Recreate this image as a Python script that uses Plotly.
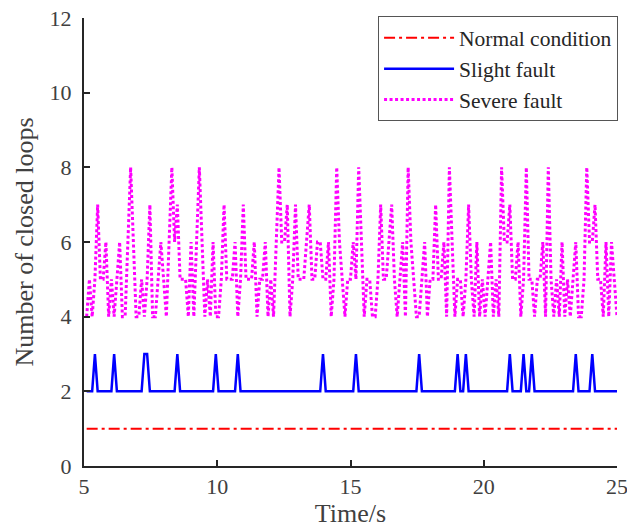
import numpy as np
import plotly.graph_objects as go

# ---- data ----
severe = [
    4, 5, 4, 5, 7, 5, 5, 6, 4, 5, 4, 5, 6, 4, 4, 6, 8, 6, 4, 4,   # 5.6 - 7.5
    5, 4, 5, 7, 4, 4, 5, 6, 5, 4, 6, 8, 6, 7, 5, 5, 5, 4, 6, 4,   # 7.6 - 9.5
    6, 8, 6, 4, 5, 4, 6, 4, 4, 5, 7, 5, 5, 5, 6, 4, 5, 7, 5, 5,   # 9.6 - 11.5
    5, 6, 4, 5, 5, 6, 4, 5, 4, 6, 8, 6, 6, 7, 4, 5, 7, 5, 5, 5,   # 11.6 - 13.5
    6, 7, 5, 5, 6, 6, 5, 5, 6, 4, 5, 8, 6, 5, 4, 5, 5, 6, 5, 8,   # 13.6 - 15.5
    6, 4, 5, 5, 4, 4, 5, 7, 5, 5, 6, 7, 5, 4, 5, 6, 4, 8, 6, 5,   # 15.6 - 17.5
    4, 4, 5, 6, 4, 5, 5, 7, 5, 5, 6, 4, 8, 6, 4, 5, 5, 4, 5, 7,   # 17.6 - 19.5
    5, 4, 6, 4, 5, 4, 5, 6, 4, 5, 4, 8, 6, 6, 7, 5, 5, 6, 4, 5,   # 19.6 - 21.5
    8, 5, 5, 4, 5, 5, 6, 4, 8, 5, 4, 5, 4, 6, 4, 5, 4, 5, 6, 4,   # 21.6 - 23.5
    4, 5, 8, 6, 6, 7, 5, 5, 4, 6, 4, 6, 5, 4,                      # 23.6 - 24.9
]
slight_spike_idx = [3, 10, 21, 22, 33, 47, 55, 86, 98, 121, 135, 138,
                    154, 159, 162, 178, 184]
normal_level = 1
t_start, t_end = 5.1, 25.0

n = len(severe)
time = np.linspace(t_start, t_end, n)
slight = [3 if i in slight_spike_idx else 2 for i in range(n)]
normal = [normal_level] * n

x_ticks = [5, 10, 15, 20, 25]
y_ticks = [0, 2, 4, 6, 8, 10, 12]

FONT = "Liberation Serif"
AX = "#262626"
TXT = "#404040"

fig = go.Figure()
fig.add_trace(go.Scatter(x=time, y=normal, mode="lines", name="Normal condition",
                         line=dict(color="#FF0000", width=2, dash="11px,4px,3px,4px")))
fig.add_trace(go.Scatter(x=time, y=slight, mode="lines", name="Slight fault",
                         line=dict(color="#0000FF", width=2.5)))
fig.add_trace(go.Scatter(x=time, y=severe, mode="lines", name="Severe fault",
                         line=dict(color="#FF00FF", width=3, dash="3px,2.5px")))

fig.update_layout(
    width=627, height=531,
    margin=dict(l=84, r=10, t=18, b=65, autoexpand=False),
    paper_bgcolor="white", plot_bgcolor="white",
    font=dict(family=FONT, color=TXT),
    showlegend=True,
    legend=dict(x=1.002, y=1.004, xanchor="right", yanchor="top",
                bgcolor="white", bordercolor="#555555", borderwidth=1,
                font=dict(family=FONT, size=21.5, color="#262626"),
                itemwidth=70, tracegroupgap=0),
)
fig.update_xaxes(range=[5, 25], tickvals=x_ticks, ticks="inside", ticklen=6,
                 tickwidth=1.5, tickcolor=AX, showline=True, linecolor=AX,
                 linewidth=2, showgrid=False, zeroline=False, mirror=False,
                 automargin=False, ticklabeloverflow="allow",
                 tickfont=dict(size=22, color=TXT),
                 title=dict(text="Time/s", font=dict(size=26, color=TXT),
                            standoff=4))
fig.update_yaxes(range=[0, 12], tickvals=y_ticks, ticks="inside", ticklen=6,
                 tickwidth=1.5, tickcolor=AX, showline=True, linecolor=AX,
                 linewidth=2, showgrid=False, zeroline=False, mirror=False,
                 automargin=False, ticklabeloverflow="allow",
                 tickfont=dict(size=22, color=TXT), ticklabelstandoff=6,
                 title=dict(text="Number of closed loops",
                            font=dict(size=26, color=TXT), standoff=8))

fig.write_html("out.html", config={"displayModeBar": False},
               post_script="document.body.style.margin='0px';")
